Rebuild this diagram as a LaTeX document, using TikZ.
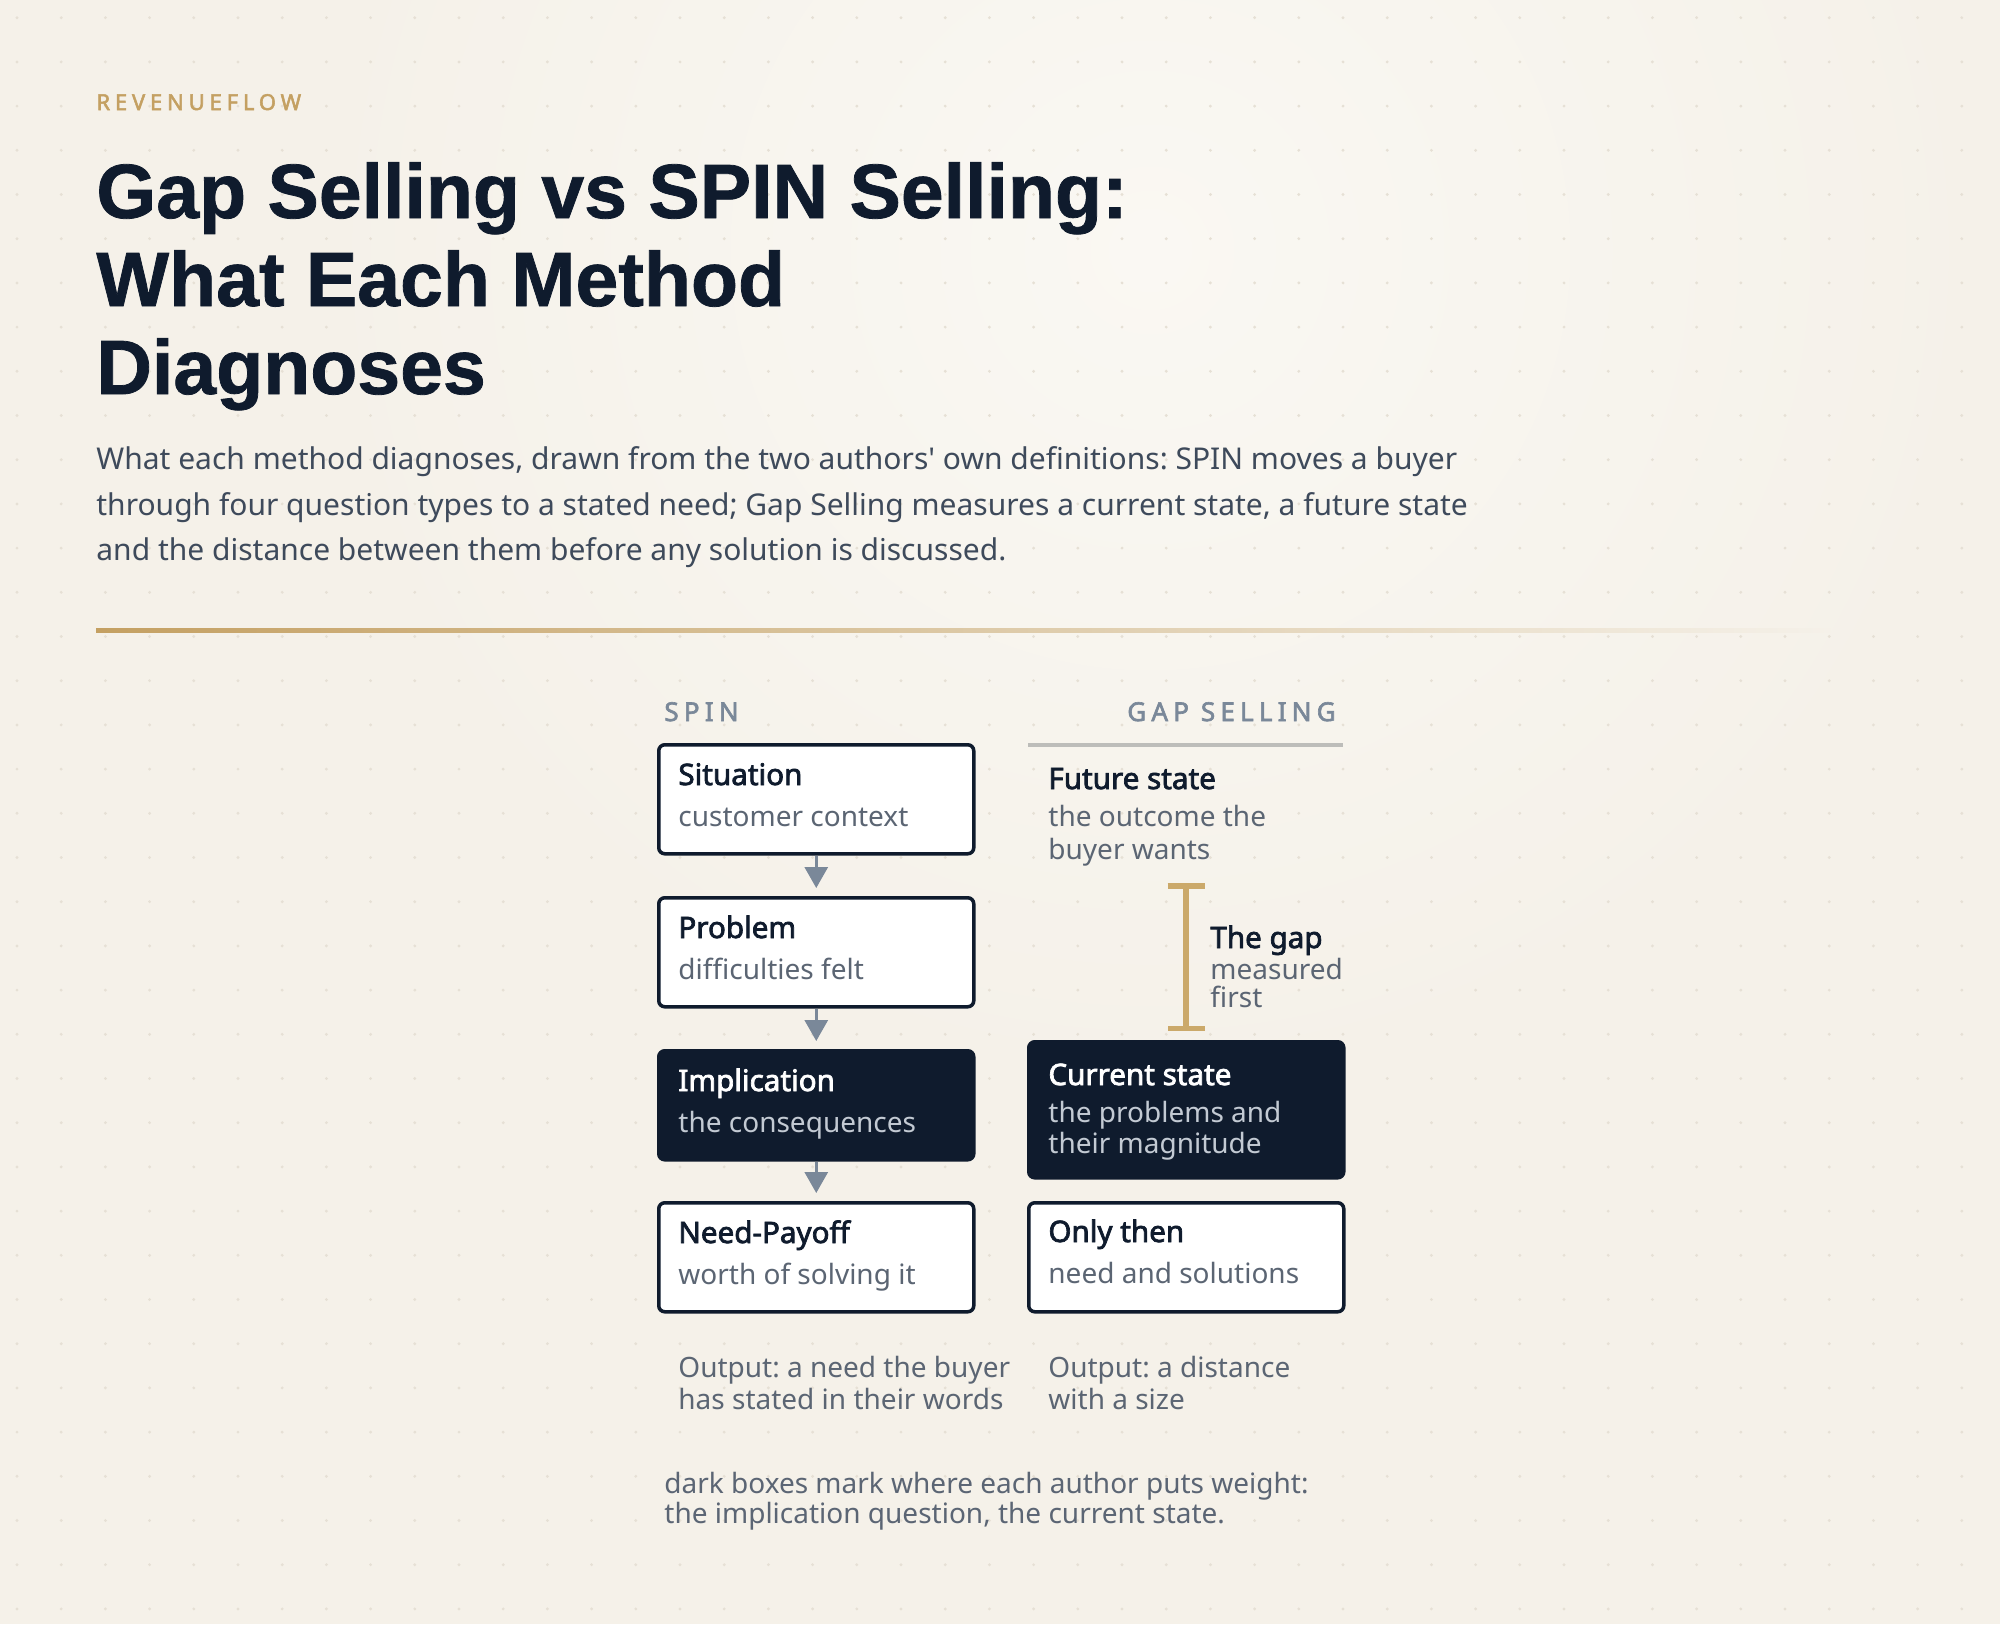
\documentclass[tikz,border=0pt]{standalone}
\usepackage{fontspec}
\setmainfont{Noto Sans}[Ligatures=TeXOff, BoldFont={Noto Sans}, BoldFeatures={FakeBold=2.4}]
\newfontfamily\headfont[FakeBold=1.0]{Liberation Sans}
\usetikzlibrary{arrows.meta}
\frenchspacing

\definecolor{bgcream}{HTML}{F5F1E9}
\definecolor{bglight}{HTML}{FAF8F3}
\definecolor{dotgrey}{HTML}{E6E0D5}
\definecolor{navy}{HTML}{0F1B2D}
\definecolor{slate}{HTML}{3E4A5B}
\definecolor{subgrey}{HTML}{5B6573}
\definecolor{lightsub}{HTML}{C3CAD3}
\definecolor{steel}{HTML}{7A8899}
\definecolor{gold}{HTML}{C4A062}
\definecolor{goldbar}{HTML}{CBA96A}
\definecolor{rulegrey}{HTML}{BDBDBA}

\tikzset{
	txt/.style={anchor=base west, inner sep=0pt, align=left},
	box/.style={draw=navy, fill=white, line width=1.75pt, rounded corners=3pt,
		minimum width=157.5pt, minimum height=54.5pt, anchor=north west, inner sep=0pt},
	darkbox/.style={box, fill=navy},
	box ttl/.style={txt, text=navy, font=\bfseries\fontsize{14.8}{17}\selectfont},
	box sub/.style={txt, text=subgrey, font=\fontsize{14}{16}\selectfont},
	darkbox ttl/.style={box ttl, text=white},
	darkbox sub/.style={box sub, text=lightsub},
	colhead/.style={inner sep=0pt, text=steel, font=\bfseries\fontsize{13}{14}\selectfont\addfontfeature{LetterSpace=20}},
	flow/.style={draw=steel, line width=1.5pt, -{Triangle[width=11.5pt,length=10.5pt]}, shorten >=4pt},
	note/.style={txt, text=subgrey, font=\fontsize{14}{16}\selectfont}
}

\begin{document}
\begin{tikzpicture}[x=0.5pt, y=-0.5pt]
	\useasboundingbox (0,0) rectangle (2000,1624);

	% background
	\begin{scope}
		\clip (0,0) rectangle (2000,1624);
		\fill[bgcream] (0,0) rectangle (2000,1624);
		\shade[inner color=bglight, outer color=bgcream] (1150,250) circle (420pt);
		\foreach \i in {0,...,45}
			\foreach \j in {0,...,36}
				\fill[dotgrey] ({17+44.2*\i},{17.7+44.2*\j}) circle (0.8pt);
	\end{scope}

	% header
	\node[txt, text=gold, font=\bfseries\fontsize{11}{12}\selectfont\addfontfeature{LetterSpace=22}] (brand) at (96,110) {REVENUEFLOW};
	\begin{scope}[every node/.style={txt, text=navy, font=\headfont\bfseries\fontsize{38.5}{44}\selectfont}]
		\node (title1) at (96,218) {Gap Selling vs SPIN Selling:};
		\node (title2) at (96,306) {What Each Method};
		\node (title3) at (96,394) {Diagnoses};
	\end{scope}
	\begin{scope}[every node/.style={txt, text=slate, font=\fontsize{15}{18}\selectfont}]
		\node (lede1) at (96,469) {What each method diagnoses, drawn from the two authors' own definitions: SPIN moves a buyer};
		\node (lede2) at (96,515) {through four question types to a stated need; Gap Selling measures a current state, a future state};
		\node (lede3) at (96,560) {and the distance between them before any solution is discussed.};
	\end{scope}
	\shade[left color=gold, middle color=gold!55!bgcream, right color=bgcream] (96,628) rectangle (1830,632);

	% SPIN column
	\node[colhead, anchor=base west] (spinhead) at (664,721) {SPIN};
	\foreach \nm/\top/\ttl/\sub/\kind in {sit/743/Situation/customer context/box,
		prob/896/Problem/difficulties felt/box,
		impl/1049/Implication/the consequences/darkbox,
		need/1201/Need-Payoff/worth of solving it/box}{
		\node[\kind] (\nm) at (657,\top) {};
		\node[\kind\space ttl] (\nm-ttl) at (678,{\top+42}) {\ttl};
		\node[\kind\space sub] (\nm-sub) at (678,{\top+83}) {\sub};
	}
	\draw[flow] (sit) -- (prob);
	\draw[flow] (prob) -- (impl);
	\draw[flow] (impl) -- (need);

	% Gap Selling column
	\node[colhead, anchor=base east] (gaphead) at (1336,721) {GAP SELLING};
	\draw[rulegrey, line width=2pt] (1028,745) -- (1343,745);
	\node[box ttl] (future-ttl) at (1048,789) {Future state};
	\node[box sub, font=\fontsize{14}{16.5}\selectfont] (future-sub) at (1048,859) {the outcome the\\buyer wants};

	\coordinate (gaptop) at (1186,883);
	\coordinate (gapbot) at (1186,1031);
	\draw[goldbar, line width=3pt, {Bar[width=18.5pt,line width=2.75pt]}-{Bar[width=18.5pt,line width=2.75pt]}] (gaptop) -- (gapbot);
	\node[box ttl] (gap-ttl) at (1210,948) {The gap};
	\node[box sub, font=\fontsize{14}{14}\selectfont] (gap-sub) at (1210,1007) {measured\\first};

	\node[darkbox, minimum height=68pt] (current) at (1027,1040) {};
	\node[darkbox ttl] (current-ttl) at (1048,1085) {Current state};
	\node[darkbox sub, font=\fontsize{14}{15.5}\selectfont] (current-sub) at (1048,1153) {the problems and\\their magnitude};

	\node[box] (only) at (1027,1201) {};
	\node[box ttl] (only-ttl) at (1048,1242) {Only then};
	\node[box sub] (only-sub) at (1048,1283) {need and solutions};

	% outputs
	\node[note] (spinout) at (678,1409) {Output: a need the buyer\\has stated in their words};
	\node[note] (gapout) at (1048,1409) {Output: a distance\\with a size};
	\node[note, text=slate!85, font=\fontsize{14}{15}\selectfont] (footnote) at (664,1523) {dark boxes mark where each author puts weight:\\the implication question, the current state.};
\end{tikzpicture}
\end{document}
